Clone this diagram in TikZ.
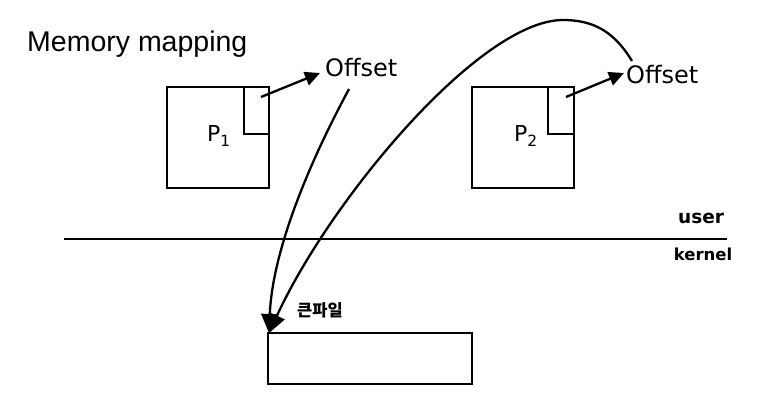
\documentclass[tikz,border=0pt]{standalone}
\usepackage{fontspec}
\setmainfont{Liberation Sans}
\newfontfamily\handfont{DejaVu Sans}
\newfontfamily\korfont{Noto Sans CJK KR}
\usetikzlibrary{arrows.meta}
\begin{document}
\begin{tikzpicture}[x=1pt,y=-1pt,
  thick line/.style={line width=2.3pt},
  boxnode/.style={draw,thick line,inner sep=0pt,minimum width=#1},
  bigarrow/.style={thick line,-{Triangle[length=19pt,width=17pt]}},
  smallarrow/.style={thick line,-{Triangle[length=15pt,width=14pt]}},
  hand/.style={font=\handfont\fontsize{24}{24}\selectfont,inner sep=0pt}]
\useasboundingbox (0,0) rectangle (757,413);
\node[anchor=base west,inner sep=0pt,font=\fontsize{28.5}{28.5}\selectfont] (title) at (27,51) {Memory mapping};
% process boxes
\node[boxnode=102pt,minimum height=101pt] (p1) at (218,137.5) {};
\node[boxnode=25pt,minimum height=47pt] (p1in) at (256.5,110.5) {};
\node[boxnode=102pt,minimum height=101pt] (p2) at (523,137.5) {};
\node[boxnode=26pt,minimum height=47pt] (p2in) at (561,110.5) {};
\node[hand,font=\handfont\fontsize{22}{22}\selectfont] (p1lab) at (219,136) {P\textsubscript{1}};
\node[hand,font=\handfont\fontsize{22}{22}\selectfont] (p2lab) at (526,136) {P\textsubscript{2}};
% offset labels
\node[hand,anchor=west] (off1) at (325,68) {Offset};
\node[hand,anchor=west] (off2) at (626,75) {Offset};
\coordinate (s1) at (261,97);
\coordinate (s2) at (566,97);
\draw[smallarrow] (s1) -- (320,73);
\draw[smallarrow] (s2) -- (624,73);
% user / kernel line
\coordinate (lineL) at (64,239);
\coordinate (lineR) at (727,239);
\draw[thick line] (lineL) -- (lineR);
\node[hand,font=\handfont\bfseries\fontsize{18.5}{18.5}\selectfont] (user) at (701,218) {user};
\node[hand,font=\handfont\bfseries\fontsize{16.5}{16.5}\selectfont] (kernel) at (703,254) {kernel};
% big file
\node[boxnode=204pt,minimum height=51pt] (file) at (370,358.5) {};
\node[inner sep=0pt,font=\korfont\bfseries\fontsize{16.5}{16.5}\selectfont] (filelab) at (320,310) {큰파일};
\coordinate (tip) at (269,333);
\coordinate (c1) at (349,89);
\coordinate (c2) at (632,61);
\coordinate (peak) at (563,20);
\draw[bigarrow] (c1) .. controls (300,180) and (272,260) .. (tip);
\draw[bigarrow] (c2) .. controls (615,33) and (595,20) .. (peak)
   .. controls (480,20) and (330,200) .. (tip);
\end{tikzpicture}
\end{document}
